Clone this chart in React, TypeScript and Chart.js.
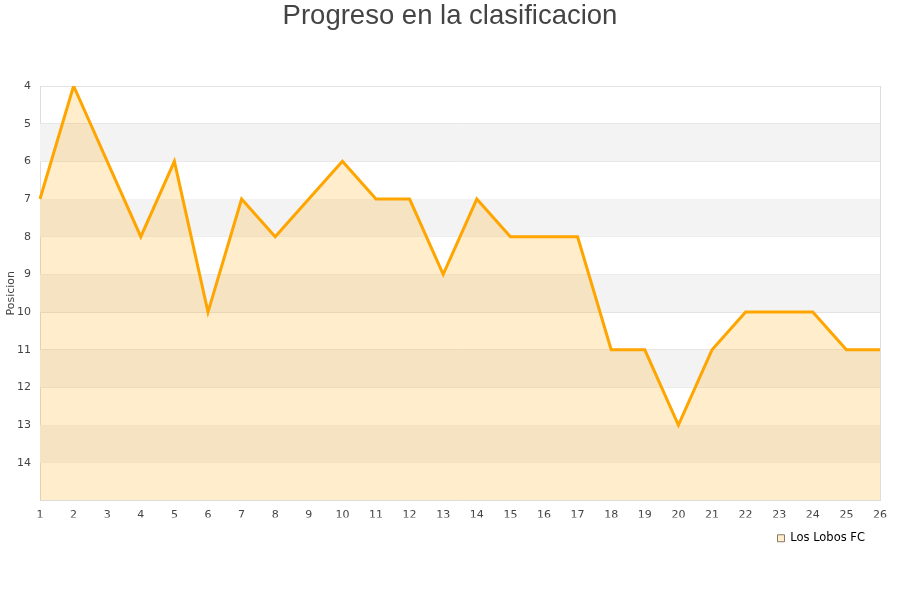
import { Chart, registerables } from 'chart.js';
import { useEffect, useRef } from 'react';

Chart.register(...registerables);

const jornadas = ['1', '2', '3', '4', '5', '6', '7', '8', '9', '10', '11', '12', '13', '14', '15', '16', '17', '18', '19', '20', '21', '22', '23', '24', '25', '26'];
const posiciones = [7, 4, 6, 8, 6, 10, 7, 8, 7, 6, 7, 7, 9, 7, 8, 8, 8, 11, 11, 13, 11, 10, 10, 10, 11, 11];
const equipo = 'Los Lobos FC';
const posMin = 4;
const posMax = 15;

// franjas alternas detras del area
const bandsPlugin = {
  id: 'bands',
  beforeDatasetsDraw(chart: any) {
    const { ctx, chartArea, scales } = chart;
    const y = scales.y;
    ctx.save();
    ctx.fillStyle = '#F3F3F3';
    for (let v = posMin + 1; v < posMax; v += 2) {
      const a = y.getPixelForValue(v);
      const b = y.getPixelForValue(v + 1);
      ctx.fillRect(chartArea.left, Math.min(a, b), chartArea.right - chartArea.left, Math.abs(b - a));
    }
    ctx.restore();
  },
};

export default function App() {
  const chartRef = useRef<HTMLCanvasElement>(null);
  const chartInstanceRef = useRef<Chart | null>(null);

  useEffect(() => {
    if (!chartRef.current) return;
    const ctx = chartRef.current.getContext('2d');
    if (!ctx) return;

    if (chartInstanceRef.current) chartInstanceRef.current.destroy();

    chartInstanceRef.current = new Chart(ctx, {
      type: 'line',
      data: {
        labels: jornadas,
        datasets: [
          {
            label: equipo,
            data: posiciones,
            borderColor: '#FFA500',
            borderWidth: 3,
            backgroundColor: 'rgba(255,165,0,0.2)',
            fill: 'start',
            pointRadius: 0,
            tension: 0,
          },
        ],
      },
      plugins: [bandsPlugin],
      options: {
        responsive: false,
        animation: false,
        layout: { padding: { left: 0, right: 0, top: 0, bottom: 46 } },
        scales: {
          x: {
            offset: false,
            grid: { display: false, drawTicks: false },
            border: { color: '#DDDDDD' },
            ticks: {
              padding: 8,
              maxRotation: 0,
              autoSkip: false,
              color: '#444',
              font: { family: 'DejaVu Sans', size: 11 },
            },
            afterFit: (scale: any) => {
              scale.height = 17;
            },
          },
          y: {
            reverse: true,
            min: posMin,
            max: posMax,
            grid: { color: '#E2E2E2', drawTicks: false },
            border: { color: '#DDDDDD' },
            ticks: {
              stepSize: 1,
              padding: 9,
              color: '#444',
              font: { family: 'DejaVu Sans', size: 11 },
              callback: (v: any) => (v === posMax ? '' : v),
            },
            title: {
              display: true,
              text: 'Posicion',
              color: '#444',
              font: { family: 'DejaVu Sans', size: 11 },
              padding: { top: 5, bottom: 0 },
            },
            afterFit: (scale: any) => {
              scale.width = 40;
            },
          },
          // eje vacio a la derecha: margen y borde derecho
          yRight: {
            position: 'right',
            min: 0,
            max: 1,
            grid: { display: false, drawTicks: false },
            border: { display: true, color: '#DDDDDD' },
            ticks: { display: false },
            afterFit: (scale: any) => {
              scale.width = 20;
            },
          },
        },
        plugins: {
          title: {
            display: true,
            text: 'Progreso en la clasificacion',
            color: '#444',
            font: { family: 'Liberation Sans', size: 27.5, weight: 'normal' },
            padding: { top: 0, bottom: 53 },
          },
          legend: {
            position: 'bottom',
            align: 'end',
            fullSize: false,
            labels: {
              boxWidth: 7,
              boxHeight: 7,
              padding: 15,
              color: '#000',
              font: { family: 'DejaVu Sans', size: 11.5 },
              generateLabels: () => [
                {
                  text: equipo,
                  fillStyle: '#FFEDCC',
                  strokeStyle: '#8A7A66',
                  lineWidth: 1,
                  datasetIndex: 0,
                },
              ],
            },
          },
          tooltip: { enabled: false },
        },
      },
    });

    return () => {
      if (chartInstanceRef.current) chartInstanceRef.current.destroy();
    };
  }, []);

  return (
    <div style={{ position: 'fixed', left: 0, top: 0, width: 900, height: 600, background: '#fff' }}>
      <canvas ref={chartRef} width={900} height={600} />
    </div>
  );
}
